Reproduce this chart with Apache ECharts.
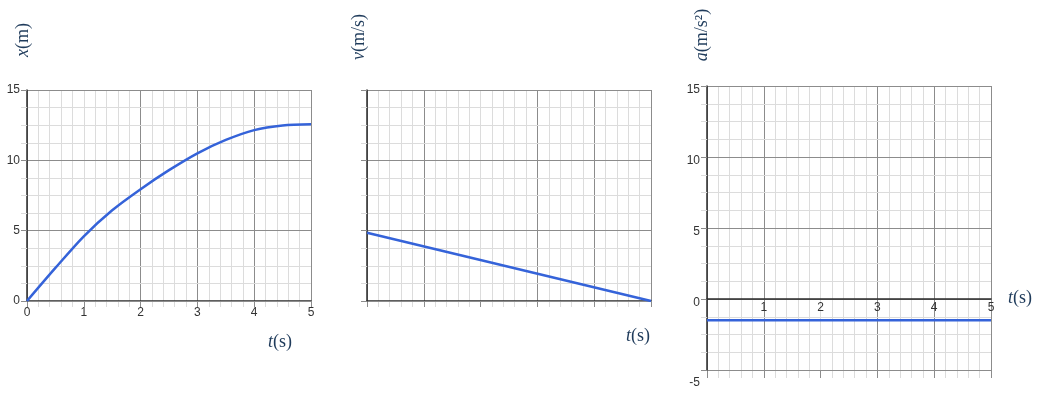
<!DOCTYPE html>
<html><head><meta charset="utf-8">
<script src="https://cdn.jsdelivr.net/npm/echarts@6/dist/echarts.min.js"></script>
<style>html,body{margin:0;padding:0;background:#fff}#c{width:1039px;height:398px}</style>
</head><body><div id="c"></div>
<script>
// ---- data ----
const posTime = [0, 0.5, 1, 1.5, 2, 2.5, 3, 3.5, 4, 4.5, 5];
const posValues = [0, 2.35, 4.6, 6.45, 7.95, 9.3, 10.5, 11.45, 12.15, 12.48, 12.56];
const velTime = [0, 5];
const velValues = [4.85, 0];
const accTime = [0, 5];
const accValues = [-1.5, -1.5];
const timeRange = [0, 5];
const posRange = [0, 15];
const velRange = [0, 15];
const accRange = [-5, 15];
const accUpperRange = [0, 15];
const yTitles = ['x', 'v', 'a'];
const yUnits = ['(m)', '(m/s)', '(m/s²)'];
const xTitle = ['t', '(s)'];

const MAJOR = '#8c8c8c', MINOR = '#dcdcdc', AXIS = '#2b2b2b', LABEL = '#333', TITLE = '#1f3b5b', LINE = '#3563d9';
const LFONT = {color: LABEL, fontSize: 12, fontFamily: 'Liberation Sans, Arial, sans-serif'};

const grids = [
  {left: 27, top: 90, width: 284, height: 211},
  {left: 367, top: 90, width: 284, height: 211},
  {left: 707, top: 86, width: 284, height: 284},
  {left: 707, top: 86, width: 284, height: 213}   // upper part of panel 3: its bottom is the a = 0 line
];

const xAxis = [], yAxis = [];
function addX(g, o) { xAxis.push(Object.assign({gridIndex: g, type: 'value', min: timeRange[0], max: timeRange[1], interval: 1}, o)); return xAxis.length - 1; }
function addY(g, range, o) { yAxis.push(Object.assign({gridIndex: g, type: 'value', min: range[0], max: range[1], interval: 5}, o)); return yAxis.length - 1; }

const splitColors = [
  [MAJOR, MINOR, MAJOR, MAJOR, MAJOR, MAJOR],
  [MAJOR, MAJOR, MINOR, MAJOR, MAJOR, MAJOR],
  [MAJOR, MAJOR, MINOR, MAJOR, MAJOR, MAJOR]
];
const bottomLen = [6, 6, 8], topLen = [11, 11, 11], rightLen = [8, 7, 7];
const xMainIdx = [], yMainIdx = [];

[posRange, velRange, accRange].forEach((range, g) => {
  const xm = addX(g, {
    position: 'bottom',
    axisLine: {show: g < 2, onZero: false, lineStyle: {color: AXIS, width: 1.5}},
    axisTick: {show: true, length: bottomLen[g], lineStyle: {color: MAJOR}},
    minorTick: {show: true, splitNumber: 5, length: bottomLen[g], lineStyle: {color: MINOR}},
    axisLabel: Object.assign({show: g === 0, margin: 6}, LFONT),
    splitLine: {show: true, lineStyle: {color: splitColors[g], width: 1}},
    minorSplitLine: {show: true, lineStyle: {color: MINOR, width: 1}},
    z: 1
  });
  xMainIdx.push(xm);
  addX(g, {
    position: 'top',
    axisLine: {show: false},
    axisTick: {show: true, length: topLen[g], lineStyle: {color: MAJOR}},
    minorTick: {show: true, splitNumber: 5, length: topLen[g], lineStyle: {color: MINOR}},
    axisLabel: {show: false},
    splitLine: {show: false}
  });
  const lab = Object.assign({show: g !== 1, margin: 7}, LFONT);
  if (g === 2) {
    lab.verticalAlign = 'top';
    lab.lineHeight = 8;
    lab.formatter = v => v === -5 ? '{d|-5}' : String(v);
    lab.rich = {d: {color: LABEL, fontSize: 12, fontFamily: LFONT.fontFamily, lineHeight: 26}};
  }
  const ym = addY(g, range, {
    position: 'left',
    axisLine: {show: true, onZero: false, lineStyle: {color: AXIS, width: 1.5}},
    axisTick: {show: true, length: 6, lineStyle: {color: MAJOR}},
    minorTick: {show: true, splitNumber: 4, length: 6, lineStyle: {color: MINOR}},
    axisLabel: lab,
    splitLine: {show: true, lineStyle: {color: MAJOR, width: 1}},
    minorSplitLine: {show: true, lineStyle: {color: MINOR, width: 1}},
    z: 2
  });
  yMainIdx.push(ym);
  addY(g, range, {
    position: 'right',
    axisLine: {show: false},
    axisTick: {show: true, length: rightLen[g], lineStyle: {color: MAJOR}},
    minorTick: {show: true, splitNumber: 4, length: rightLen[g], lineStyle: {color: MINOR}},
    axisLabel: {show: false},
    splitLine: {show: false}
  });
});

// time axis drawn along a = 0 in panel 3
addX(3, {
  position: 'bottom',
  axisLine: {show: true, onZero: false, lineStyle: {color: AXIS, width: 1.5}},
  axisTick: {show: false},
  axisLabel: Object.assign({show: true, margin: 3, formatter: v => v === 0 ? '' : String(v)}, LFONT),
  splitLine: {show: false},
  z: 3
});
addY(3, accUpperRange, {show: false, splitLine: {show: false}});

function pairs(xs, ys) { return xs.map((x, i) => [x, ys[i]]); }

const series = [
  {type: 'line', xAxisIndex: xMainIdx[0], yAxisIndex: yMainIdx[0], data: pairs(posTime, posValues), smooth: 0.3, showSymbol: false, lineStyle: {color: LINE, width: 2.5}, z: 10, silent: true},
  {type: 'line', xAxisIndex: xMainIdx[1], yAxisIndex: yMainIdx[1], data: pairs(velTime, velValues), showSymbol: false, lineStyle: {color: LINE, width: 2.5}, z: 10, silent: true},
  {type: 'line', xAxisIndex: xMainIdx[2], yAxisIndex: yMainIdx[2], data: pairs(accTime, accValues), showSymbol: false, lineStyle: {color: LINE, width: 2.5}, z: 10, silent: true}
];

const rich = {
  i: {fontFamily: 'Liberation Serif, DejaVu Serif, serif', fontStyle: 'italic', fontSize: 18, fill: TITLE, color: TITLE},
  n: {fontFamily: 'Liberation Serif, DejaVu Serif, serif', fontSize: 18, fill: TITLE, color: TITLE}
};
function title(x, y, a, b, rot) {
  return {type: 'text', x: x, y: y, rotation: rot, z: 20,
    style: {text: '{i|' + a + '}{n|' + b + '}', rich: rich, align: 'center', verticalAlign: 'middle',
      textAlign: 'center', textVerticalAlign: 'middle', fill: TITLE}};
}
const graphic = [
  title(23, 40, yTitles[0], yUnits[0], Math.PI / 2),
  title(359, 37, yTitles[1], yUnits[1], Math.PI / 2),
  title(702, 35, yTitles[2], yUnits[2], Math.PI / 2),
  title(280, 342, xTitle[0], xTitle[1], 0),
  title(638, 336, xTitle[0], xTitle[1], 0),
  title(1020, 298, xTitle[0], xTitle[1], 0)
];

const chart = echarts.init(document.getElementById('c'), null, {renderer: 'canvas'});
chart.setOption({
  animation: false,
  backgroundColor: '#fff',
  grid: grids,
  xAxis: xAxis,
  yAxis: yAxis,
  series: series,
  graphic: graphic
});
</script>
</body></html>
